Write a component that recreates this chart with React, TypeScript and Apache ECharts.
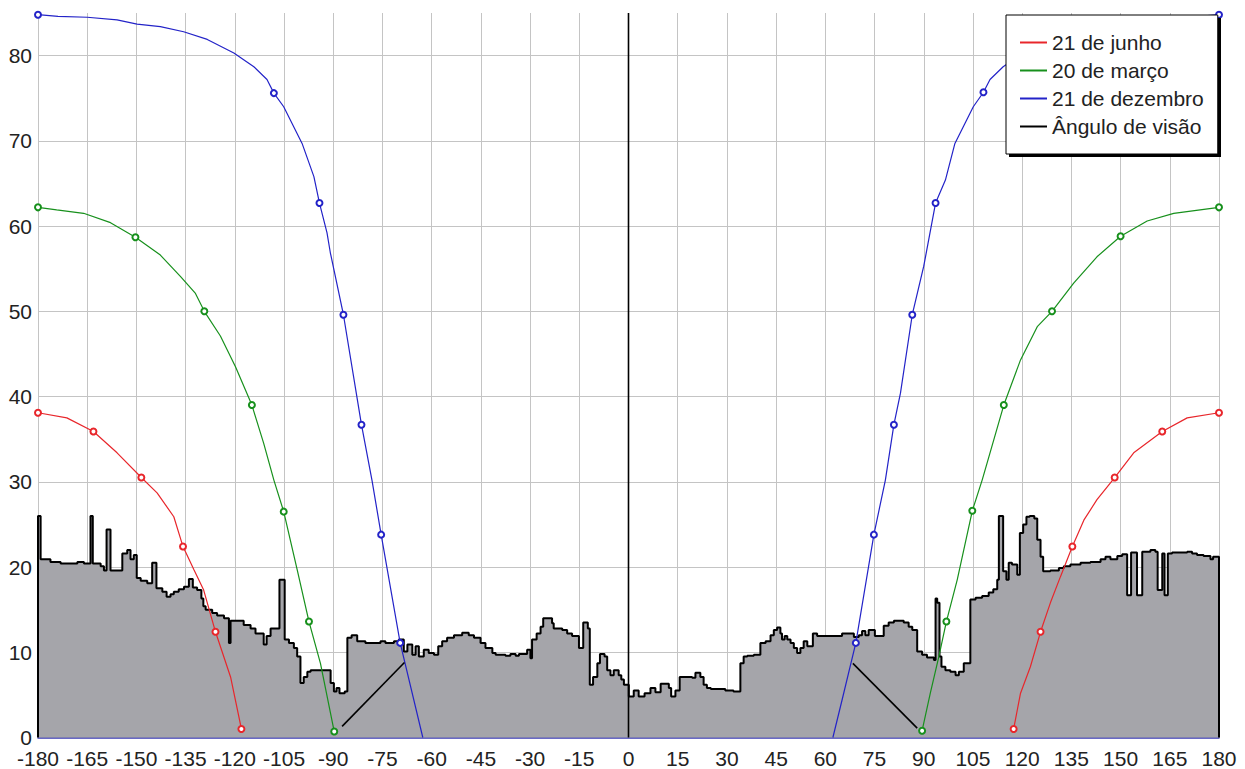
import React, { useEffect, useRef } from "react";
import * as echarts from "echarts";

const FONT = "'Liberation Sans', Arial, sans-serif";

// Terrain profile (horizon elevation): value holds from x to next x
const terrainX = [
  -180, -179.2, -176.2, -173.1, -168, -166, -164.0, -163.3, -160.9, -159.9, -159.1, -157.9, -154.3, -152.8, -151.8,
  -150.8, -149.9, -148.7, -146.7, -145.2, -143.9, -142.1, -140.8, -139.6, -138.6, -137.1, -135.5, -134.0, -132.8,
  -131.5, -130.2, -129.6, -128.9, -126.9, -125.4, -123.3, -121.8, -121.3, -117.3, -115.2, -113.7, -111.2, -110.3,
  -109.1, -106.4, -104.8, -103.5, -102.0, -101.0, -100.0, -99.0, -97.9, -96.9, -90.8, -89.8, -89.0, -88.1, -86.5,
  -85.7, -84.4, -82.7, -80.2, -75.6, -74.1, -71.5, -70.0, -68.5, -67.4, -65.9, -64.9, -63.9, -62.4, -60.9, -59.3,
  -58.0, -56.8, -55.3, -53.2, -50.7, -48.7, -47.1, -45.1, -43.6, -41.5, -40.5, -37.5, -36.0, -34.4, -33.4, -30.9,
  -29.9, -29.4, -28.0, -26.8, -26.0, -23.3, -22.8, -20.2, -18.7, -17.2, -15.1, -13.8, -12.4, -11.8, -10.8, -9.5,
  -8.7, -7.3, -6.5, -5.5, -4.5, -3.0, -2.2, -1.4, 0.1, 1.6, 3.1, 4.9, 6.7, 8.2, 9.8, 12.3, 13.0, 14.3, 15.6, 19.4,
  20.4, 21.9, 22.9, 23.9, 25.1, 29.5, 32.0, 34.1, 35.1, 36.2, 38.2, 40.2, 41.8, 43.3, 44.3, 45.3, 46.3, 46.8, 47.6,
  48.4, 49.4, 50.4, 51.4, 52.4, 53.4, 54.5, 56.2, 57.5, 65.1, 68.7, 70.2, 71.2, 72.2, 73.2, 75.1, 77.8, 79.3, 80.9,
  83.9, 85.4, 86.5, 88.0, 89.5, 91.0, 93.1, 93.6, 94.1, 94.8, 95.4, 96.6, 98.1, 99.7, 100.7, 102.2, 104.2, 105.8,
  107.8, 109.8, 111.2, 112.4, 112.9, 114.2, 115.2, 115.9, 116.9, 118.5, 119.3, 120.3, 121.3, 122.3, 123.7, 124.6,
  125.6, 126.4, 128.6, 131.2, 132.7, 134.7, 137.8, 140.8, 143.9, 145.4, 146.9, 149.0, 150.5, 152.0, 153.2, 155.0,
  156.6, 159.1, 160.6, 161.3, 162.7, 163.4, 164.4, 165.7, 170.3, 171.8, 173.3, 175.3, 177.4, 178.2, 180,
];
const terrainY = [
  26.0, 20.9, 20.6, 20.4, 20.6, 20.4, 26.0, 20.4, 20.1, 19.6, 24.4, 19.6, 21.6, 22.0, 20.9,
  21.4, 18.7, 18.4, 18.1, 20.5, 17.5, 17.1, 16.5, 16.8, 17.1, 17.4, 17.7, 18.6, 17.6,
  17.3, 16.3, 15.4, 15.0, 14.6, 14.3, 14.0, 11.1, 13.7, 13.2, 12.8, 12.2, 10.9, 11.9,
  12.8, 18.5, 11.5, 11.1, 10.5, 9.5, 6.4, 7.1, 7.7, 7.9, 6.4, 5.4, 5.8, 5.2, 5.4,
  11.7, 12.0, 11.3, 11.1, 11.3, 11.1, 11.3, 11.5, 10.1, 10.9, 9.7, 10.7, 9.5, 10.3, 9.9, 9.7,
  10.7, 11.3, 11.7, 12.0, 12.3, 12.0, 11.7, 11.1, 10.5, 9.9, 9.7, 9.6, 9.8, 9.6, 9.8, 10.3,
  9.3, 11.5, 12.2, 13.0, 14.0, 13.4, 12.8, 12.6, 12.2, 11.9, 10.5, 13.5, 12.8, 6.2, 7.1, 8.7,
  9.8, 9.5, 7.9, 7.3, 7.9, 7.3, 6.8, 6.2, 4.8, 5.5, 4.8, 5.2, 5.8, 5.3, 6.3, 5.8, 4.8, 5.5, 7.1, 7.0,
  7.6, 7.1, 6.2, 5.8, 5.7, 5.5, 5.4, 8.7, 9.5, 9.6, 9.7, 11.1, 11.3, 12.0, 12.6, 12.9, 12.2, 11.5, 11.9,
  11.5, 11.1, 10.5, 9.9, 10.5, 11.3, 10.7, 12.2, 11.9, 12.2, 11.8, 12.0, 12.5, 12.0, 12.6, 11.9, 13.1, 13.5, 13.7,
  13.5, 13.0, 12.6, 10.1, 9.7, 9.4, 9.1, 16.3, 15.8, 9.5, 8.3, 7.9, 7.7, 7.3, 7.7, 8.7, 16.2, 16.4,
  16.6, 17.0, 17.4, 18.5, 26.0, 19.5, 18.5, 20.5, 20.3, 19.1, 24.0, 25.0, 25.9, 26.0, 25.7, 23.2,
  21.2, 19.5, 19.6, 19.9, 20.1, 20.3, 20.5, 20.6, 20.9, 21.2, 20.9, 21.3, 21.5, 16.7, 21.7, 16.7,
  21.8, 22.0, 21.8, 17.3, 21.6, 16.7, 21.6, 21.7, 21.8, 21.6, 21.4, 21.3, 20.9, 21.2, 21.2,
];

// Sun elevation curves: [azimuth, elevation, marker(1/0)]
const junhoLeft = [
  [-180, 38.1, 1], [-171.2, 37.5, 0], [-163.1, 35.9, 1], [-155.9, 33.4, 0], [-148.5, 30.5, 1], [-143.7, 28.7, 0],
  [-138.6, 25.9, 0], [-135.8, 22.4, 1], [-132.5, 19.7, 0], [-129.5, 17.3, 0], [-125.9, 12.4, 1], [-121.3, 7.1, 0],
  [-118.0, 1.0, 1],
];
const junhoRight = [
  [117.4, 1.0, 1], [119.5, 5.2, 0], [122.5, 8.3, 0], [125.6, 12.4, 1], [128.6, 15.8, 0], [131.7, 18.9, 0],
  [135.3, 22.4, 1], [138.8, 25.5, 0], [142.8, 27.9, 0], [148.2, 30.5, 1], [154.0, 33.4, 0], [162.7, 35.9, 1],
  [170.3, 37.5, 0], [180, 38.1, 1],
];
const marcoLeft = [
  [-180, 62.2, 1], [-174.3, 61.9, 0], [-166.1, 61.5, 0], [-157.9, 60.4, 0], [-150.3, 58.7, 1], [-142.7, 56.6, 0],
  [-136.6, 54.1, 0], [-132.0, 52.1, 0], [-129.3, 50.0, 1], [-124.4, 47.1, 0], [-119.8, 43.5, 0], [-114.8, 39.0, 1],
  [-111.2, 34.5, 0], [-108.1, 30.2, 0], [-105.1, 26.5, 1], [-101.0, 19.7, 0], [-97.4, 13.6, 1], [-93.9, 8.7, 0],
  [-89.7, 0.7, 1],
];
const marcoRight = [
  [89.5, 0.8, 1], [92.0, 5.2, 0], [94.6, 9.5, 0], [96.9, 13.6, 1], [100.2, 18.5, 0], [104.8, 26.6, 1],
  [107.8, 30.2, 0], [109.3, 32.2, 0], [114.4, 39.0, 1], [119.5, 44.3, 0], [124.6, 48.2, 0], [129.1, 50.0, 1],
  [135.7, 53.3, 0], [142.8, 56.4, 0], [150.0, 58.8, 1], [158.1, 60.6, 0], [166.2, 61.5, 0], [180, 62.2, 1],
];
const dezLeft = [
  [-180, 84.8, 1], [-173.9, 84.6, 0], [-165.0, 84.5, 0], [-155.9, 84.2, 0], [-149.8, 83.7, 0], [-142.7, 83.4, 0],
  [-135.6, 82.8, 0], [-128.4, 81.9, 0], [-120.3, 80.3, 0], [-114.2, 78.7, 0], [-110.2, 77.2, 0], [-108.1, 75.6, 1],
  [-105.1, 74.0, 0], [-99.5, 69.7, 0], [-95.9, 65.8, 0], [-94.2, 62.7, 1], [-91.9, 59.2, 0], [-90.9, 56.9, 0],
  [-86.9, 49.6, 1], [-81.4, 36.7, 1], [-78.2, 30.2, 0], [-75.4, 23.8, 1], [-69.6, 11.1, 1], [-62.7, 0, 0],
];
const dezRight = [
  [62.3, 0, 0], [65.1, 4.4, 0], [69.3, 11.1, 1], [74.8, 23.8, 1], [78.3, 30.2, 0], [80.9, 36.7, 1],
  [82.9, 40.4, 0], [86.5, 49.6, 1], [90.0, 55.3, 0], [93.6, 62.7, 1], [96.6, 65.4, 0], [99.5, 69.7, 0],
  [105.1, 74.0, 0], [108.2, 75.7, 1], [110.2, 77.2, 0], [114.2, 78.7, 0], [120.3, 80.3, 0], [128.4, 81.9, 0],
  [135.6, 82.8, 0], [142.7, 83.4, 0], [149.8, 83.7, 0], [155.9, 84.2, 0], [165.0, 84.5, 0], [173.9, 84.6, 0],
  [180, 84.8, 1],
];
// Viewing angle segments
const visaoSegments = [
  [[-87.3, 1.3], [-68.3, 8.8]],
  [[68.4, 8.7], [88.0, 1.1]],
  [[0, 0], [0, 85]],
];

const legendNames = ["21 de junho", "20 de março", "21 de dezembro", "Ângulo de visão"];
const RED = "#e8262b";
const GREEN = "#17901c";
const BLUE = "#2323c8";

function curveSeries(name: string, color: string, pts: number[][]) {
  return {
    type: "line",
    name,
    color,
    symbol: "none",
    showSymbol: true,
    showAllSymbol: true,
    silent: true,
    z: 3,
    lineStyle: { color, width: 1.2 },
    itemStyle: { color, borderColor: color, borderWidth: 1.2 },
    data: pts.map(([x, y, m]) =>
      m ? { value: [x, y], symbol: "emptyCircle", symbolSize: 6 } : { value: [x, y], symbol: "none" }
    ),
  };
}

export default function App() {
  const ref = useRef<HTMLDivElement>(null);
  useEffect(() => {
    if (!ref.current) return;
    const chart = echarts.init(ref.current, null, { renderer: "svg" });
    const terrainData: number[][] = [[-180, 0]];
    terrainX.forEach((x, i) => terrainData.push([x, terrainY[i]]));
    terrainData.push([180, 0]);

    const yGridColors = ["#c4c4c4", "#c4c4c4", "#c4c4c4", "#c4c4c4", "#c4c4c4", "#c4c4c4", "#c4c4c4", "#c4c4c4", "#c4c4c4", "rgba(0,0,0,0)"];

    const option: any = {
      animation: false,
      backgroundColor: "#ffffff",
      textStyle: { fontFamily: FONT },
      grid: { left: 38, right: 26, top: 13, bottom: 31, containLabel: false },
      xAxis: {
        type: "value",
        min: -180,
        max: 180,
        interval: 15,
        axisLine: { show: true, lineStyle: { color: "#3838b4", width: 1.5 } },
        axisTick: { show: false },
        axisLabel: { fontSize: 21, lineHeight: 18, color: "#222", margin: 12, fontFamily: FONT },
        splitLine: { show: true, lineStyle: { color: "#c4c4c4", width: 1 } },
      },
      yAxis: {
        type: "value",
        min: 0,
        max: 85,
        interval: 10,
        axisLine: { show: false },
        axisTick: { show: false },
        axisLabel: {
          fontSize: 21,
          lineHeight: 18,
          color: "#222",
          margin: 6,
          fontFamily: FONT,
          formatter: (v: number) => (v > 80 ? "" : String(v)),
        },
        splitLine: { show: true, lineStyle: { color: yGridColors, width: 1 } },
      },
      legend: {
        data: legendNames,
        orient: "vertical",
        left: 1006,
        top: 15,
        padding: [17, 14, 17, 14],
        itemGap: 7,
        itemWidth: 27,
        itemHeight: 2,
        icon: "rect",
        itemStyle: { borderWidth: 0 },
        backgroundColor: "#ffffff",
        borderColor: "#000000",
        borderWidth: 1,
        borderRadius: 0,
        selectedMode: false,
        z: 10,
        textStyle: { fontSize: 21, lineHeight: 21, color: "#222", fontFamily: FONT },
      },
      graphic: [
        {
          type: "rect",
          shape: { x: 1009, y: 18, width: 212, height: 139 },
          style: { fill: "#000000" },
          z: 9,
          silent: true,
        },
      ],
      series: [
        {
          type: "line",
          name: "terreno",
          step: "end",
          symbol: "none",
          silent: true,
          z: 1,
          data: terrainData,
          lineStyle: { color: "#000000", width: 2 },
          areaStyle: { color: "#a5a5aa", opacity: 1 },
        },
        curveSeries("21 de junho", RED, junhoLeft),
        curveSeries("21 de junho", RED, junhoRight),
        curveSeries("20 de março", GREEN, marcoLeft),
        curveSeries("20 de março", GREEN, marcoRight),
        curveSeries("21 de dezembro", BLUE, dezLeft),
        curveSeries("21 de dezembro", BLUE, dezRight),
        ...visaoSegments.map((seg) => ({
          type: "line",
          name: "Ângulo de visão",
          color: "#000000",
          symbol: "none",
          silent: true,
          z: 4,
          lineStyle: { color: "#000000", width: 1.6 },
          data: seg,
        })),
      ],
    };
    chart.setOption(option);
    return () => chart.dispose();
  }, []);

  return (
    <div
      ref={ref}
      style={{ position: "fixed", left: 0, top: 0, width: 1245, height: 769, background: "#fff" }}
    />
  );
}
